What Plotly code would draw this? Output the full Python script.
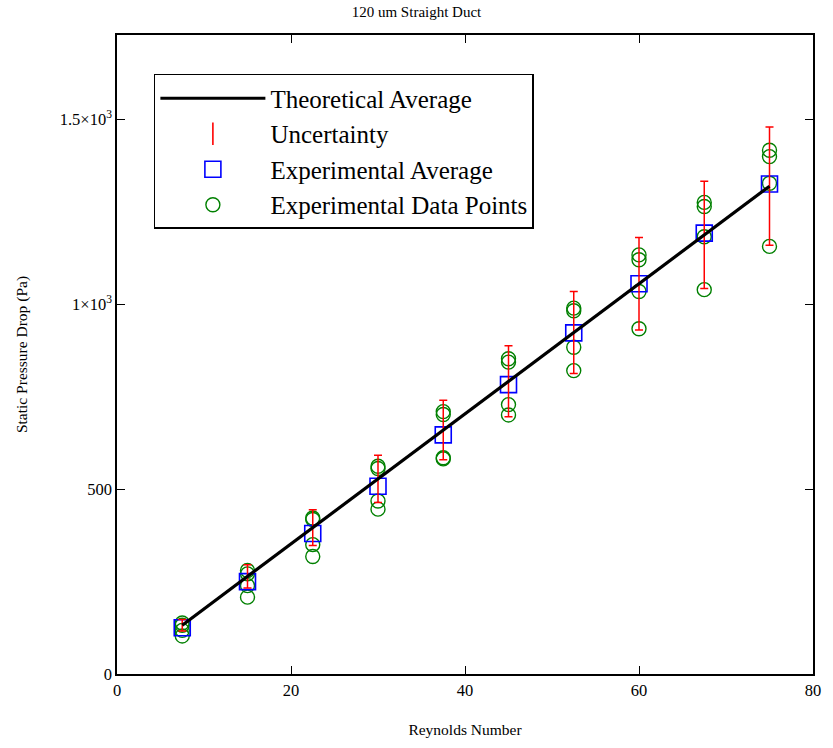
import plotly.graph_objects as go

# ---- data ----
reynolds = [7.5, 15, 22.5, 30, 37.5, 45, 52.5, 60, 67.5, 75]
theoretical = [132, 264, 396, 528, 660, 792, 924, 1056, 1188, 1320]
uncertainty = [15.5, 31.5, 48.5, 64, 80.5, 96, 111, 125, 145, 160]
exp_average = [125, 250, 380, 508, 647, 783, 923, 1056, 1193, 1326]
exp_run1 = [138, 280, 422, 562, 710, 853, 990, 1134, 1276, 1417]
exp_run2 = [132, 271, 418, 556, 702, 844, 983, 1121, 1265, 1400]
exp_run3 = [118, 239, 350, 468, 585, 729, 884, 1035, 1183, 1328]
exp_run4 = [103, 208, 318, 446, 582, 701, 821, 934, 1040, 1157]

x_ticks = [0, 20, 40, 60, 80]
y_ticks = [0, 500, 1000, 1500]
y_ticktext = ["0", "500", "1×10<sup>3</sup>", "1.5×10<sup>3</sup>"]

FONT = "Liberation Serif, Times New Roman, serif"
GREEN = "#008000"
BLUE = "#0000ff"
RED = "#ff0000"

fig = go.Figure()

# data points (all runs)
pts_x = reynolds * 4
pts_y = exp_run1 + exp_run2 + exp_run3 + exp_run4
fig.add_trace(go.Scatter(
    x=pts_x, y=pts_y, mode="markers", name="Experimental Data Points",
    marker=dict(symbol="circle-open", size=14, color=GREEN, line=dict(width=1.4, color=GREEN)),
    legendrank=4,
))

# experimental average
fig.add_trace(go.Scatter(
    x=reynolds, y=exp_average, mode="markers", name="Experimental Average",
    marker=dict(symbol="square-open", size=16, color=BLUE, line=dict(width=1.6, color=BLUE)),
    legendrank=3,
))

# uncertainty bars (centered on theoretical)
fig.add_trace(go.Scatter(
    x=reynolds, y=theoretical, mode="markers", showlegend=False,
    marker=dict(size=1, color="rgba(0,0,0,0)"),
    error_y=dict(type="data", array=uncertainty, visible=True, color=RED, thickness=1.5, width=4),
    hoverinfo="skip",
))
fig.add_trace(go.Scatter(
    x=[None], y=[None], mode="markers", name="Uncertainty",
    marker=dict(symbol="line-ns-open", size=16, color=RED, line=dict(width=1.6, color=RED)),
    legendrank=2,
))

# theoretical line
fig.add_trace(go.Scatter(
    x=reynolds, y=theoretical, mode="lines", name="Theoretical Average",
    line=dict(color="black", width=3.2),
    legendrank=1,
))

axis_common = dict(
    showline=True, linecolor="black", linewidth=1.5, mirror="ticks",
    ticks="inside", ticklen=8, tickwidth=1.3, tickcolor="black",
    showgrid=False, zeroline=False,
    tickfont=dict(family=FONT, size=16.5, color="black"),
)

fig.update_layout(
    width=833, height=748,
    margin=dict(l=117, r=17, t=35, b=72),
    paper_bgcolor="white", plot_bgcolor="white",
    font=dict(family=FONT, color="black"),
    title=dict(text="120 um Straight Duct", x=0.5, xanchor="center", y=0.984, yanchor="middle",
               font=dict(family=FONT, size=15, color="black")),
    xaxis=dict(range=[0, 80], tickvals=x_ticks, ticktext=[str(v) for v in x_ticks],
               title=dict(text="Reynolds Number", font=dict(family=FONT, size=15.5), standoff=26),
               **axis_common),
    yaxis=dict(range=[0, 1729], tickvals=y_ticks, ticktext=y_ticktext,
               title=dict(text="Static Pressure Drop (Pa)", font=dict(family=FONT, size=15.5), standoff=28),
               **axis_common),
    legend=dict(
        x=0.053, y=0.939, xanchor="left", yanchor="top",
        bgcolor="white", bordercolor="black", borderwidth=1.5,
        font=dict(family=FONT, size=25, color="black"),
        itemwidth=105, tracegroupgap=0,
        traceorder="normal",
    ),
    showlegend=True,
)

fig.write_html("out.html", config={"displayModeBar": False},
               post_script="document.body.style.margin='0';")
